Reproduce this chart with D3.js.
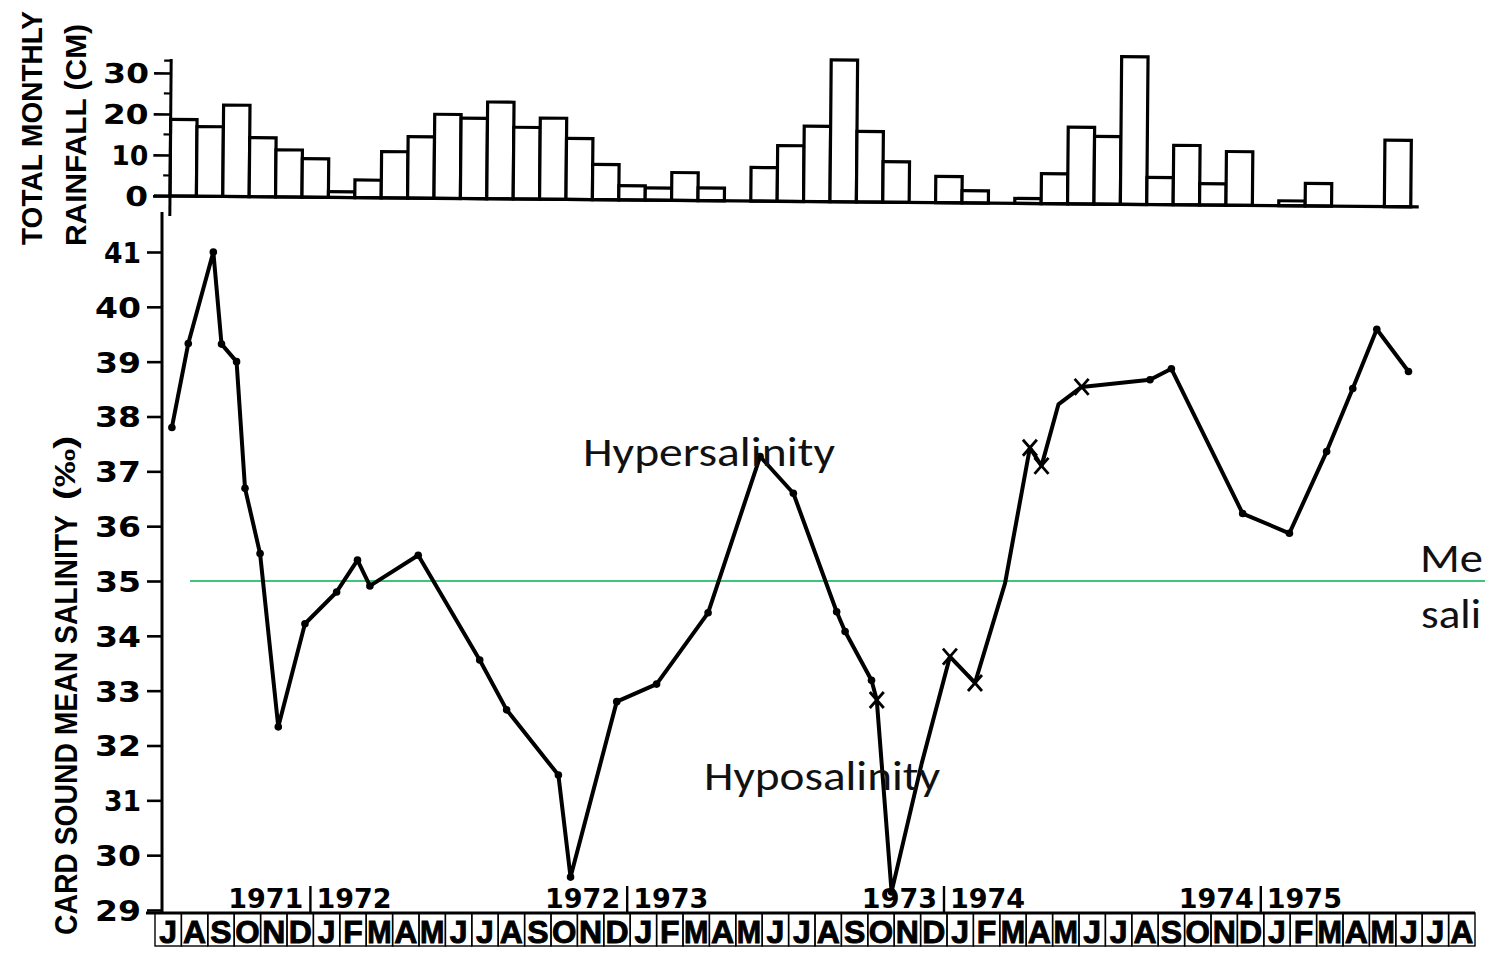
<!DOCTYPE html>
<html>
<head>
<meta charset="utf-8">
<script src="https://cdn.jsdelivr.net/npm/d3@7"></script>
<style>
  html, body { margin: 0; padding: 0; background: #fff; }
  svg { display: block; }
</style>
</head>
<body>
<svg id="chart" width="1485" height="954"></svg>
<script>
// ---- data -------------------------------------------------------------
// Month strip runs from July 1971 to August 1975.
const monthLetters = ["J","F","M","A","M","J","J","A","S","O","N","D"];
const firstMonthIndex = 6;      // July
const monthCount = 50;

// Year boundaries on the month strip (month offset from July 1971).
const yearBreakMonth = [6, 18, 30, 42];
const yearBefore = ["1971", "1972", "1973", "1974"];
const yearAfter  = ["1972", "1973", "1974", "1975"];

// Total monthly rainfall (cm), July 1971 - May 1975.
const rainfall = [18.7, 17.0, 22.3, 14.4, 11.5, 9.4,
                  1.4, 4.3, 11.3, 15.0, 20.5, 19.6, 23.6, 17.5, 19.8, 14.9, 8.6, 3.5,
                  3.0, 6.8, 3.1, 0, 8.2, 13.6, 18.4, 34.6, 17.2, 9.9, 0, 6.4,
                  3.0, 0, 1.2, 7.3, 18.7, 16.5, 36.0, 6.6, 14.5, 5.2, 13.1, 0,
                  1.2, 5.5, 0, 0, 16.2];
const rainTicks = [0, 10, 20, 30];
const rainMinorTicks = [5, 15, 25, 33];

// Card Sound mean salinity samples: time in months after 1 July 1971.
const salinityMonth = [0.64, 1.26, 2.21, 2.52, 3.09, 3.41, 3.98, 4.67, 5.68, 6.88,
                       7.67, 8.14, 9.97, 12.3, 13.32, 15.28, 15.74, 17.49, 19.0, 20.95,
                       22.92, 24.18, 25.82, 26.14, 27.14, 27.34, 27.9, 29.04, 30.11, 31.06,
                       32.2, 33.14, 33.58, 34.22, 35.1, 37.69, 38.5, 41.2, 42.97, 44.38,
                       45.37, 46.28, 47.48];
const salinityValue = [37.8, 39.33, 41.0, 39.32, 39.0, 36.69, 35.5, 32.34, 34.22, 34.8,
                       35.38, 34.91, 35.47, 33.56, 32.65, 31.46, 29.6, 32.8, 33.12, 34.42,
                       37.27, 36.6, 34.44, 34.08, 33.19, 32.83, 29.33, 31.67, 33.62, 33.14,
                       34.96, 37.43, 37.1, 38.22, 38.54, 38.67, 38.87, 36.23, 35.87, 37.36,
                       38.51, 39.59, 38.82];
// "o" = dot, "x" = cross, "" = no symbol
const salinityMarker = ["o","o","o","o","o","o","o","o","o","o",
                        "o","o","o","o","o","o","o","o","o","o",
                        "o","o","o","o","o","x","o","","x","x",
                        "","x","x","","x","o","o","o","o","o",
                        "o","o","o"];
const salinityTicks = d3.range(29, 42);
const meanSalinity = 35;

// ---- scales -----------------------------------------------------------
const svg = d3.select("#chart");
const x = d3.scaleLinear().domain([0, monthCount]).range([155, 1475]);
const ySal = d3.scaleLinear().domain([29, 41]).range([910, 252]);
const yRain = d3.scaleLinear().domain([0, 30]).range([196, 73]);

const boldFont = "'DejaVu Sans', 'Liberation Sans', sans-serif";
const titleFont = "'Liberation Sans', Arial, sans-serif";
const noteFont = "Carlito, Lato, 'Open Sans', sans-serif";

// width for a tick label: a "1" is drawn much narrower than the other digits
const labelWidth = s => s.split("").reduce((w, c) => w + (c === "1" ? 14 : 23), 0);

// ---- rainfall panel ---------------------------------------------------
const rain = svg.append("g")
  .attr("transform", `translate(15,0) rotate(0.5 ${x(0)} ${yRain(0)})`);

rain.selectAll("rect.bar")
  .data(rainfall)
  .join("rect")
  .attr("class", "bar")
  .attr("x", (d, i) => x(i))
  .attr("y", d => yRain(d))
  .attr("width", (d, i) => x(i + 1) - x(i))
  .attr("height", d => yRain(0) - yRain(d))
  .attr("fill", "#fff")
  .attr("stroke", "#000")
  .attr("stroke-width", 3.2);

rain.append("line")
  .attr("x1", x(0) - 16).attr("x2", x(rainfall.length) + 8)
  .attr("y1", yRain(0)).attr("y2", yRain(0))
  .attr("stroke", "#000").attr("stroke-width", 3.2);

const rainAxis = rain.append("g")
  .attr("transform", `translate(${x(0)},0)`)
  .call(d3.axisLeft(yRain).tickValues(rainTicks).tickSize(17).tickPadding(5));
rainAxis.select(".domain").remove();
rainAxis.selectAll(".tick line").attr("stroke", "#000").attr("stroke-width", 2.6);
rainAxis.selectAll(".tick text")
  .attr("font-family", boldFont).attr("font-weight", "bold")
  .attr("font-size", 27).attr("fill", "#000").attr("dy", "0.36em")
  .attr("textLength", d => labelWidth(String(d)))
  .attr("lengthAdjust", "spacingAndGlyphs");
rainAxis.selectAll(".minor")
  .data(rainMinorTicks)
  .join("line")
  .attr("class", "minor")
  .attr("x1", -7).attr("x2", 0)
  .attr("y1", d => yRain(d)).attr("y2", d => yRain(d))
  .attr("stroke", "#000").attr("stroke-width", 2.2);
rainAxis.append("line")
  .attr("x1", 0).attr("x2", 0)
  .attr("y1", yRain(33.4)).attr("y2", yRain(0) + 20)
  .attr("stroke", "#000").attr("stroke-width", 3);

// rainfall axis title (two lines)
svg.append("text")
  .attr("transform", "translate(42,128) rotate(-90)")
  .attr("text-anchor", "middle")
  .attr("font-family", titleFont).attr("font-weight", "bold")
  .attr("font-size", 29).attr("fill", "#000")
  .attr("textLength", 234).attr("lengthAdjust", "spacingAndGlyphs")
  .text("TOTAL MONTHLY");
svg.append("text")
  .attr("transform", "translate(86,135) rotate(-90)")
  .attr("text-anchor", "middle")
  .attr("font-family", titleFont).attr("font-weight", "bold")
  .attr("font-size", 29).attr("fill", "#000")
  .attr("textLength", 222).attr("lengthAdjust", "spacingAndGlyphs")
  .text("RAINFALL (CM)");

// ---- salinity panel ---------------------------------------------------
const salAxisX = 162;
const salAxis = svg.append("g")
  .attr("transform", `translate(${salAxisX},0)`)
  .call(d3.axisLeft(ySal).tickValues(salinityTicks).tickSize(15).tickPadding(6));
salAxis.select(".domain").remove();
salAxis.selectAll(".tick line").attr("stroke", "#000").attr("stroke-width", 2.6);
salAxis.selectAll(".tick text")
  .attr("font-family", boldFont).attr("font-weight", "bold")
  .attr("font-size", 29).attr("fill", "#000").attr("dy", "0.36em")
  .attr("textLength", d => labelWidth(String(d)))
  .attr("lengthAdjust", "spacingAndGlyphs");
salAxis.append("line")
  .attr("x1", 0).attr("x2", 0)
  .attr("y1", 212).attr("y2", 914)
  .attr("stroke", "#000").attr("stroke-width", 3);

// salinity axis title
const salTitle = svg.append("text")
  .attr("transform", "translate(77,935) rotate(-90)")
  .attr("font-family", titleFont).attr("font-weight", "bold")
  .attr("fill", "#000");
salTitle.append("tspan")
  .attr("font-size", 32)
  .attr("textLength", 420).attr("lengthAdjust", "spacingAndGlyphs")
  .text("CARD SOUND MEAN SALINITY");
salTitle.append("tspan")
  .attr("dx", 15).attr("dy", -2)
  .attr("font-size", 29)
  .attr("textLength", 64).attr("lengthAdjust", "spacingAndGlyphs")
  .text("(‰)");

// mean salinity reference line
svg.append("line")
  .attr("x1", 190).attr("x2", 1485)
  .attr("y1", ySal(meanSalinity)).attr("y2", ySal(meanSalinity))
  .attr("stroke", "#00b050").attr("stroke-width", 1.4);

// salinity series
const samples = salinityMonth.map((t, i) => ({ t, v: salinityValue[i], m: salinityMarker[i] }));
svg.append("path")
  .datum(samples)
  .attr("fill", "none")
  .attr("stroke", "#000")
  .attr("stroke-width", 4)
  .attr("stroke-linejoin", "round")
  .attr("d", d3.line().x(d => x(d.t)).y(d => ySal(d.v)));

svg.selectAll("circle.dot")
  .data(samples.filter(d => d.m === "o"))
  .join("circle")
  .attr("class", "dot")
  .attr("cx", d => x(d.t)).attr("cy", d => ySal(d.v))
  .attr("r", 3.8).attr("fill", "#000");

svg.selectAll("path.cross")
  .data(samples.filter(d => d.m === "x"))
  .join("path")
  .attr("class", "cross")
  .attr("transform", d => `translate(${x(d.t)},${ySal(d.v)})`)
  .attr("d", "M-7,-8L7,8M-7,8L7,-8")
  .attr("stroke", "#000").attr("stroke-width", 2.8).attr("fill", "none");

// ---- month strip ------------------------------------------------------
const stripTop = 913, stripBottom = 946;
const strip = svg.append("g");
const months = d3.range(monthCount);
strip.selectAll("rect.month")
  .data(months)
  .join("rect")
  .attr("class", "month")
  .attr("x", i => x(i)).attr("y", stripTop)
  .attr("width", i => x(i + 1) - x(i)).attr("height", stripBottom - stripTop)
  .attr("fill", "none").attr("stroke", "#000").attr("stroke-width", 1.4);
strip.selectAll("text.month")
  .data(months)
  .join("text")
  .attr("class", "month")
  .attr("x", i => (x(i) + x(i + 1)) / 2)
  .attr("y", stripBottom - 3)
  .attr("text-anchor", "middle")
  .attr("font-family", titleFont).attr("font-weight", "bold")
  .attr("font-size", 32).attr("fill", "#000")
  .attr("stroke", "#000").attr("stroke-width", 0.9)
  .text(i => monthLetters[(firstMonthIndex + i) % 12])
  .each(function (i) {
    const room = x(i + 1) - x(i) - 2;
    if (this.getComputedTextLength() > room) {
      d3.select(this).attr("textLength", room).attr("lengthAdjust", "spacingAndGlyphs");
    }
  });
svg.append("line")
  .attr("x1", 146).attr("x2", x(monthCount))
  .attr("y1", stripTop).attr("y2", stripTop)
  .attr("stroke", "#000").attr("stroke-width", 3.2);

// year labels around each January boundary
yearBreakMonth.forEach((m, k) => {
  const bx = x(m);
  svg.append("line")
    .attr("x1", bx - 3).attr("x2", bx - 3)
    .attr("y1", 886).attr("y2", stripTop)
    .attr("stroke", "#000").attr("stroke-width", 2.4);
  svg.append("text")
    .attr("x", bx - 10).attr("y", 908)
    .attr("text-anchor", "end")
    .attr("font-family", boldFont).attr("font-weight", "bold")
    .attr("font-size", 27).attr("fill", "#000")
    .text(yearBefore[k]);
  svg.append("text")
    .attr("x", bx + 3).attr("y", 908)
    .attr("text-anchor", "start")
    .attr("font-family", boldFont).attr("font-weight", "bold")
    .attr("font-size", 27).attr("fill", "#000")
    .text(yearAfter[k]);
});

// ---- annotations --------------------------------------------------------
const notes = [
  { text: "Hypersalinity", x: 583, y: 466, w: 252 },
  { text: "Hyposalinity",  x: 704, y: 790, w: 236 },
  { text: "Me",            x: 1420, y: 572, w: 63 },
  { text: "sali",          x: 1421, y: 628, w: 60 }
];
svg.selectAll("text.note")
  .data(notes)
  .join("text")
  .attr("class", "note")
  .attr("x", d => d.x).attr("y", d => d.y)
  .attr("font-family", noteFont)
  .attr("font-size", 41).attr("fill", "#111")
  .attr("textLength", d => d.w).attr("lengthAdjust", "spacingAndGlyphs")
  .text(d => d.text);
</script>
</body>
</html>
